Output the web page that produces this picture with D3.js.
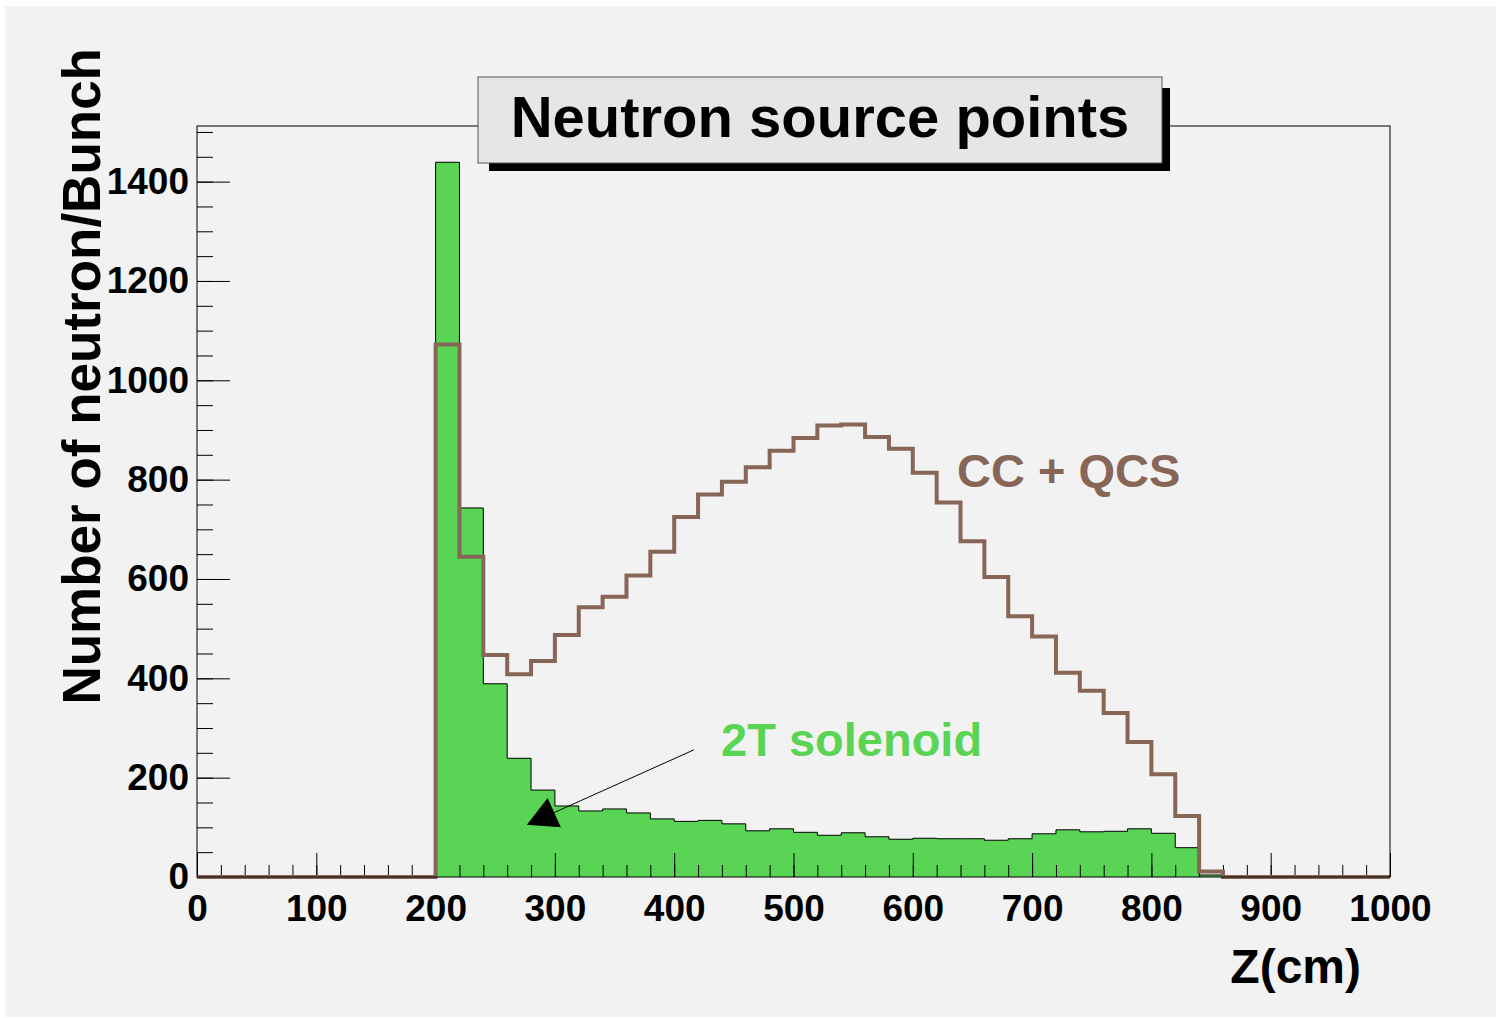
<!DOCTYPE html>
<html>
<head>
<meta charset="utf-8">
<script src="https://cdn.jsdelivr.net/npm/d3@7/dist/d3.min.js"></script>
<style>
  body { margin: 0; background: #fff; }
  text { font-family: "Liberation Sans", Arial, Helvetica, sans-serif; font-weight: bold; }
</style>
</head>
<body>
<div id="chart"></div>
<script>

// bin low edges (cm), 20 cm wide bins
var binLow = [0, 20, 40, 60, 80, 100, 120, 140, 160, 180,
              200, 220, 240, 260, 280, 300, 320, 340, 360, 380,
              400, 420, 440, 460, 480, 500, 520, 540, 560, 580,
              600, 620, 640, 660, 680, 700, 720, 740, 760, 780,
              800, 820, 840, 860, 880, 900, 920, 940, 960, 980];
var binWidth = 20;

// 2T solenoid (green filled)
var solenoid = [0, 0, 0, 0, 0, 0, 0, 0, 0, 0,
                1439, 743, 389, 239, 175, 143, 133, 137, 129, 117,
                112, 114, 107, 93, 97, 90, 84, 89, 81, 76,
                78, 77, 77, 74, 77, 87, 95, 91, 92, 97,
                88, 59, 4, 0, 0, 0, 0, 0, 0, 0];

// CC + QCS (brown outline)
var ccqcs = [0, 0, 0, 0, 0, 0, 0, 0, 0, 0,
             1072, 645, 447, 408, 435, 487, 543, 564, 607, 655,
             725, 770, 796, 825, 858, 884, 909, 911, 886, 862,
             814, 754, 676, 604, 525, 484, 411, 375, 330, 272,
             207, 123, 11, 0, 0, 0, 0, 0, 0, 0];

var xTicks = [0, 100, 200, 300, 400, 500, 600, 700, 800, 900, 1000];
var yTicks = [0, 200, 400, 600, 800, 1000, 1200, 1400];

var green = "#59d454",
    brown = "#876657";

var svg = d3.select("#chart")
            .append("svg")
            .attr("width", 1501)
            .attr("height", 1018);

// canvas background
svg.append("rect")
    .attr("x", 5).attr("y", 6)
    .attr("width", 1491).attr("height", 1011)
    .attr("fill", "#f2f2f2");

var x = d3.scaleLinear().domain([0, 1000]).range([197, 1390]),
    y = d3.scaleLinear().domain([0, 1512]).range([877, 126]);

function stepPoints(vals) {
  var pts = [{z: 0, v: 0}];
  vals.forEach(function(v, i) {
    pts.push({z: binLow[i], v: v});
    pts.push({z: binLow[i] + binWidth, v: v});
  });
  pts.push({z: 1000, v: 0});
  return pts;
}

var area = d3.area()
    .x(function(d) { return x(d.z); })
    .y0(y(0))
    .y1(function(d) { return y(d.v); });

var line = d3.line()
    .x(function(d) { return x(d.z); })
    .y(function(d) { return y(d.v); });

// green histogram
svg.append("path")
    .attr("d", area(stepPoints(solenoid)))
    .attr("fill", green);
svg.append("path")
    .attr("d", line(stepPoints(solenoid)))
    .attr("fill", "none")
    .attr("stroke", "#000")
    .attr("stroke-width", 1);

// axes
var xMinor = d3.range(0, 1001, 20),
    yMinor = d3.range(0, 1501, 50),
    fmt = d3.format("d");

svg.append("g")
    .attr("transform", "translate(0," + y(0) + ")")
    .call(d3.axisBottom(x).tickValues(xMinor).tickSize(-12).tickFormat(""))
    .call(function(g) { g.select(".domain").remove(); });

svg.append("g")
    .attr("class", "axis x")
    .attr("transform", "translate(0," + y(0) + ")")
    .call(d3.axisBottom(x).tickValues(xTicks).tickSize(-24).tickPadding(18).tickFormat(fmt))
    .call(function(g) { g.select(".domain").remove(); });

svg.append("g")
    .attr("transform", "translate(" + x(0) + ",0)")
    .call(d3.axisLeft(y).tickValues(yMinor).tickSize(-16).tickFormat(""))
    .call(function(g) { g.select(".domain").remove(); });

svg.append("g")
    .attr("class", "axis y")
    .attr("transform", "translate(" + x(0) + ",0)")
    .call(d3.axisLeft(y).tickValues(yTicks).tickSize(-33).tickPadding(8).tickFormat(fmt))
    .call(function(g) { g.select(".domain").remove(); });

svg.selectAll(".axis text")
    .attr("font-family", null)
    .style("font-size", "37px")
    .attr("fill", "#000");
svg.selectAll(".tick line").attr("stroke", "#000");

// brown histogram outline
svg.append("path")
    .attr("d", line(stepPoints(ccqcs)))
    .attr("fill", "none")
    .attr("stroke", brown)
    .attr("stroke-width", 4);

// frame
svg.append("rect")
    .attr("x", x(0)).attr("y", y(1512))
    .attr("width", x(1000) - x(0))
    .attr("height", y(0) - y(1512))
    .attr("fill", "none")
    .attr("stroke", "#000")
    .attr("stroke-width", 1);

// axis titles
svg.append("text")
    .attr("transform", "translate(100,48) rotate(-90)")
    .attr("text-anchor", "end")
    .style("font-size", "53px")
    .text("Number of neutron/Bunch");

svg.append("text")
    .attr("x", 1361).attr("y", 983)
    .attr("text-anchor", "end")
    .style("font-size", "48px")
    .text("Z(cm)");

// title box with shadow
svg.append("rect")
    .attr("x", 489).attr("y", 88)
    .attr("width", 681).attr("height", 83)
    .attr("fill", "#000");
svg.append("rect")
    .attr("x", 478).attr("y", 77)
    .attr("width", 684).attr("height", 86)
    .attr("fill", "#e6e6e6")
    .attr("stroke", "#555")
    .attr("stroke-width", 1);
svg.append("text")
    .attr("x", 820).attr("y", 137)
    .attr("text-anchor", "middle")
    .style("font-size", "58px")
    .text("Neutron source points");

// labels
svg.append("text")
    .attr("x", 957).attr("y", 487)
    .attr("fill", brown)
    .style("font-size", "47px")
    .text("CC + QCS");

svg.append("text")
    .attr("x", 721).attr("y", 756)
    .attr("fill", green)
    .style("font-size", "47px")
    .text("2T solenoid");

// arrow pointing at the green histogram
var p0 = [x(416.5), y(256)],
    p1 = [x(276.5), y(105)];
var dx = p1[0] - p0[0], dy = p1[1] - p0[1],
    len = Math.sqrt(dx * dx + dy * dy),
    ux = dx / len, uy = dy / len,
    headLen = 30, headW = 16;
var base = [p1[0] - ux * headLen, p1[1] - uy * headLen];

svg.append("line")
    .attr("x1", p0[0]).attr("y1", p0[1])
    .attr("x2", base[0]).attr("y2", base[1])
    .attr("stroke", "#000")
    .attr("stroke-width", 1);

svg.append("polygon")
    .attr("points", [
        p1,
        [base[0] - uy * headW, base[1] + ux * headW],
        [base[0] + uy * headW, base[1] - ux * headW]
      ].map(function(p) { return p.join(","); }).join(" "))
    .attr("fill", "#000");

</script>
</body>
</html>
